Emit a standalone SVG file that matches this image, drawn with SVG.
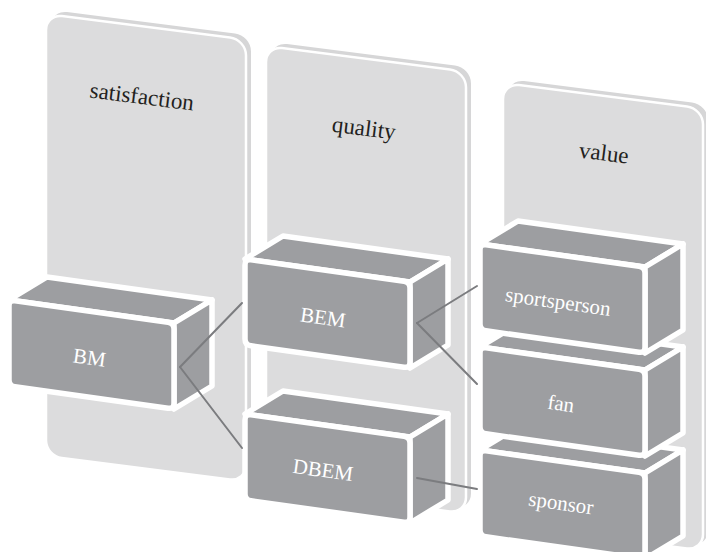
<svg xmlns="http://www.w3.org/2000/svg" xmlns:xlink="http://www.w3.org/1999/xlink" width="706" height="552" viewBox="0 0 706 552">
  <style>
    .slab { fill: #d6d6d7; }
    .panel { fill: #dcdcdd; stroke: #ffffff; stroke-width: 2.5; }
    text { font-family: "Liberation Serif", "DejaVu Serif", serif; text-anchor: middle; }
    .title { font-size: 23px; fill: #231f20; }
    .face { fill: #9d9ea1; stroke: #ffffff; stroke-width: 5.5; stroke-linejoin: round; }
    .label { font-size: 21px; fill: #ffffff; }
    .link { stroke: #7b7c7f; stroke-width: 2; fill: none; stroke-linecap: round; }
  </style>
  <defs>
    <!-- one 3D block: top, right side and rounded front face; origin at front top-left -->
    <g id="block">
      <path class="face" d="M0,0 L165,23 L203,0 L38,-23 Z"/>
      <path class="face" d="M165,23 L203,0 L203,86 L165,109 Z"/>
      <path class="face" d="M0,6 Q0,0 6,0.8 L159,22.2 Q165,23 165,29 L165,103 Q165,109 159,108.2 L6,86.8 Q0,86 0,80 Z"/>
    </g>
    <!-- column backdrop: a slanted rounded card -->
    <rect id="card" x="0" y="0" width="200" height="442" rx="16" ry="16"/>
  </defs>

  <rect width="706" height="552" fill="#ffffff"/>

  <!-- columns -->
  <g id="col-satisfaction">
    <use xlink:href="#card" class="slab" transform="translate(51,10) skewY(7.24)"/>
    <use xlink:href="#card" class="panel" transform="translate(46,14) skewY(7.24)"/>
    <text class="title" font-family="Liberation Serif, serif" x="141" y="104" transform="rotate(7.2 141 104)">satisfaction</text>
  </g>
  <g id="col-quality">
    <use xlink:href="#card" class="slab" transform="translate(271,42) skewY(7.24)"/>
    <use xlink:href="#card" class="panel" transform="translate(266,46) skewY(7.24)"/>
    <text class="title" font-family="Liberation Serif, serif" x="363" y="135.5" transform="rotate(7.2 363 135.5)">quality</text>
  </g>
  <g id="col-value">
    <use xlink:href="#card" class="slab" transform="translate(508,79) skewY(7.24)"/>
    <use xlink:href="#card" class="panel" transform="translate(503,83) skewY(7.24)"/>
    <text class="title" font-family="Liberation Serif, serif" x="603" y="160.5" transform="rotate(7.2 603 160.5)">value</text>
  </g>

  <!-- blocks -->
  <g id="node-bm">
    <use xlink:href="#block" transform="translate(9,300)"/>
    <text class="label" x="88.5" y="364.5" transform="rotate(8 88.5 364.5)">BM</text>
  </g>
  <g id="node-bem">
    <use xlink:href="#block" transform="translate(245,259)"/>
    <text class="label" x="322" y="324.5" transform="rotate(8 322 324.5)">BEM</text>
  </g>
  <g id="node-dbem">
    <use xlink:href="#block" transform="translate(245,414)"/>
    <text class="label" x="322" y="477" transform="rotate(8 322 477)">DBEM</text>
  </g>
  <g id="node-sponsor">
    <use xlink:href="#block" transform="translate(480,450)"/>
    <text class="label" x="560" y="510" transform="rotate(8 560 510)">sponsor</text>
  </g>
  <g id="node-fan">
    <use xlink:href="#block" transform="translate(480,347)"/>
    <text class="label" x="560" y="410.5" transform="rotate(8 560 410.5)">fan</text>
  </g>
  <g id="node-sportsperson">
    <use xlink:href="#block" transform="translate(480,244)"/>
    <text class="label" x="557" y="308.5" transform="rotate(8 557 308.5)">sportsperson</text>
  </g>

  <!-- connectors -->
  <g id="connectors">
    <line class="link" x1="180" y1="367" x2="242" y2="303"/>
    <line class="link" x1="180" y1="367" x2="242" y2="448"/>
    <line class="link" x1="417" y1="323" x2="477" y2="286"/>
    <line class="link" x1="417" y1="323" x2="477" y2="384"/>
    <line class="link" x1="417" y1="478" x2="477" y2="489"/>
  </g>
</svg>
